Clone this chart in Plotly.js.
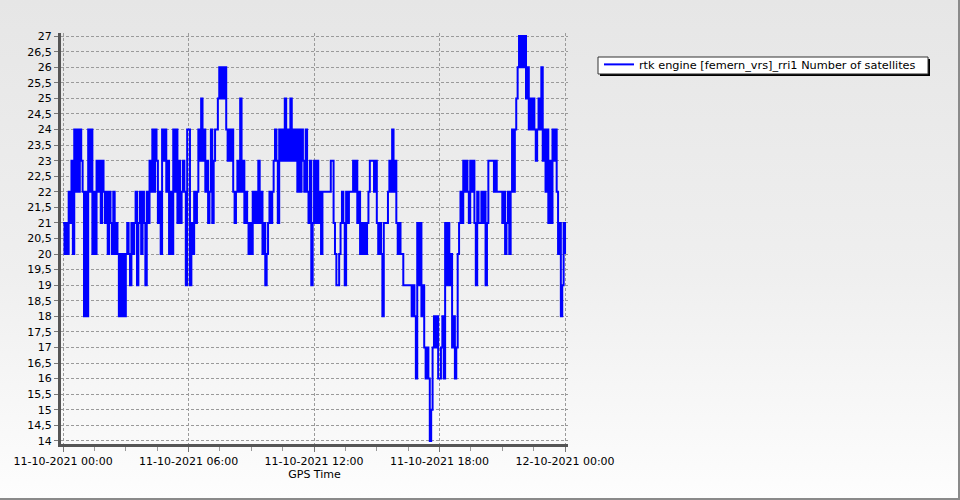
<!DOCTYPE html>
<html>
<head>
<meta charset="utf-8">
<script src="https://cdn.plot.ly/plotly-3.0.1.min.js"></script>
<style>
  html, body { margin: 0; padding: 0; }
  #chart {
    width: 960px; height: 500px; box-sizing: border-box;
    border-right: 2px solid #8a8a8a; border-bottom: 2px solid #8a8a8a;
    background: linear-gradient(to bottom, #e6e6e6 0%, #efefef 55%, #fdfdfd 100%);
  }
</style>
</head>
<body>
<div id="chart"></div>
<script>
// Number of satellites, one value every 4 minutes, starting 11-10-2021 00:00 (GPS time)
const satsH00 = [
  21,20,21,20,22,21,23,20,24,22,
  24,22,24,23,22,18,22,18,24,22,
  24,20,22,20,23,22,23,21,23,22,
  21,22,20,22,21,20,22,20,21,20,
  18,20,18,20,18,20,21,20,19,21,
  20,21,22,19,21,22,20,22,21,19,
  22,21,23,22,24,22,24,23,21,22,
  20,24,23,24,22,23,20,22,20,24,
  22,24,21,23,21,22,23,22,19,24
];
const satsH06 = [
  24,19,21,20,22,21,22,24,23,25,
  23,24,22,23,21,22,24,21,23,24,
  24,25,26,25,26,25,26,24,23,24,
  23,24,22,21,22,23,22,25,22,23,
  21,22,21,20,21,20,22,21,22,21,
  23,21,22,20,21,19,20,21,22,21,
  22,23,24,23,21,24,23,24,23,25,
  23,24,23,25,23,24,23,24,22,24,
  22,24,23,22,24,22,21,23,19,21
];
const satsH12 = [
  23,21,23,21,22,20,22,22,22,22,
  22,22,23,23,21,20,19,19,20,21,
  22,21,19,22,21,22,22,22,23,22,
  23,21,22,20,21,20,21,20,21,22,
  23,23,23,22,23,21,20,21,20,18,
  21,21,21,22,23,22,24,22,23,21,
  20,21,20,20,19,19,19,19,19,19,
  18,19,18,16,21,19,21,18,19,17,
  16,17,16,14,15,17,18,17,18,16
];
const satsH18 = [
  16,17,18,16,21,19,21,19,20,17,
  18,16,17,20,21,22,21,23,22,23,
  22,21,23,22,23,21,19,22,21,21,
  22,21,22,19,21,23,23,23,23,22,
  23,22,22,22,22,21,22,20,21,22,
  20,22,24,22,24,25,26,27,26,27,
  26,27,25,26,24,25,24,25,24,23,
  24,25,24,26,23,24,22,24,21,23,
  21,24,23,24,22,20,21,18,19,21,
  20
];
const seriesName = 'rtk engine [femern_vrs]_rri1 Number of satellites';
const startTime = Date.UTC(2021, 9, 11, 0, 0, 0);
const sampleMinutes = 4;

const sats = satsH00.concat(satsH06, satsH12, satsH18);
function fmt(ms) {
  const d = new Date(ms);
  const p = n => String(n).padStart(2, '0');
  return d.getUTCFullYear() + '-' + p(d.getUTCMonth() + 1) + '-' + p(d.getUTCDate()) + ' ' +
         p(d.getUTCHours()) + ':' + p(d.getUTCMinutes()) + ':' + p(d.getUTCSeconds());
}
const times = sats.map((_, i) => fmt(startTime + i * sampleMinutes * 60000));

const FONT = 'DejaVu Sans, Verdana, sans-serif';

const trace = {
  type: 'scatter', mode: 'lines', name: seriesName,
  x: times, y: sats,
  line: { color: '#0000ff', width: 2, shape: 'hv' },
  showlegend: true
};

// legend frame (box + drop shadow), in plot-area fractions
const legendShapes = [
  { type: 'rect', xref: 'paper', yref: 'paper', x0: 1.0631, x1: 1.7140, y0: 0.8954, y1: 0.9368,
    fillcolor: '#000', line: { width: 0 }, layer: 'below' },
  { type: 'rect', xref: 'paper', yref: 'paper', x0: 1.0592, x1: 1.7101, y0: 0.9003, y1: 0.9416,
    fillcolor: '#fff', line: { color: '#333', width: 1 }, layer: 'below' }
];

const layout = {
  width: 960, height: 500,
  margin: { l: 61, r: 392, t: 33, b: 56, pad: 0 },
  paper_bgcolor: 'rgba(0,0,0,0)',
  plot_bgcolor: 'rgba(0,0,0,0)',
  separators: ',.',
  font: { family: FONT, size: 11, color: '#000' },
  showlegend: true,
  shapes: legendShapes,
  xaxis: {
    type: 'date',
    range: ['2021-10-10 23:54:00', '2021-10-12 00:08:30'],
    tick0: '2021-10-11 00:00:00',
    dtick: 6 * 3600000,
    tickformat: '%d-%m-%Y %H:%M',
    ticks: 'outside', ticklen: 5, tickcolor: '#777', tickwidth: 1,
    minor: { dtick: 1.5 * 3600000, ticks: 'outside', ticklen: 4, tickcolor: '#999',
             showgrid: false, gridcolor: 'rgba(0,0,0,0)', gridwidth: 0 },
    showgrid: true, gridcolor: '#9a9a9a', griddash: '3px,2px', gridwidth: 1,
    showline: true, linecolor: '#555', linewidth: 3,
    zeroline: false,
    tickfont: { family: FONT, size: 11, color: '#000' },
    title: { text: 'GPS Time', font: { family: FONT, size: 11, color: '#000' }, standoff: 4 }
  },
  yaxis: {
    range: [13.9, 27.1],
    tick0: 14, dtick: 0.5,
    ticks: 'outside', ticklen: 4, tickcolor: '#777', tickwidth: 1,
    showgrid: true, gridcolor: '#9a9a9a', griddash: '3px,2px', gridwidth: 1,
    showline: true, linecolor: '#555', linewidth: 3,
    zeroline: false,
    tickfont: { family: FONT, size: 11, color: '#000' }
  },
  legend: {
    x: 1.0611, y: 0.9589, xanchor: 'left', yanchor: 'top',
    bgcolor: 'rgba(0,0,0,0)', borderwidth: 0,
    font: { family: FONT, size: 11.3, color: '#000' },
    itemwidth: 30, tracegroupgap: 0
  }
};

Plotly.newPlot('chart', [trace], layout, { displayModeBar: false, staticPlot: true });
</script>
</body>
</html>
